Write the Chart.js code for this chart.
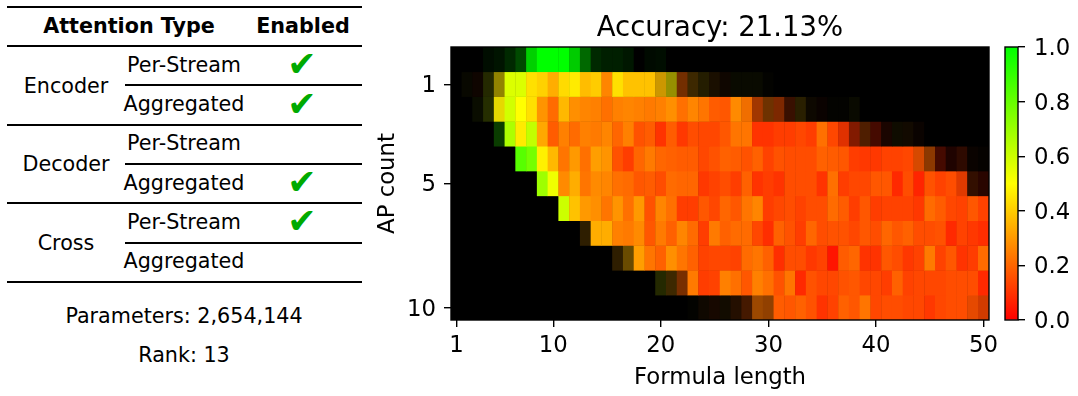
<!DOCTYPE html>
<html>
<head>
<meta charset="utf-8">
<title>Accuracy heatmap</title>
<script src="https://cdn.jsdelivr.net/npm/chart.js@4"></script>
<style>
    html, body { margin: 0; padding: 0; background: #fff; }
    body { width: 1078px; height: 396px; position: relative; overflow: hidden; font-family: "DejaVu Sans", sans-serif; font-size: 20.7px; color: #000; }
    canvas { position: absolute; top: 0; }
    #heatmap { left: 370px; }
    #colorbar { left: 1000px; }
    .rule { position: absolute; height: 2px; background: #000; }
    .cell { position: absolute; transform: translate(-50%, -50%); white-space: nowrap; line-height: 1; }
    .head { font-weight: bold; }
    .check { color: #00aa00; font-size: 35px; }
</style>
</head>
<body>
<canvas id="heatmap" width="630" height="396"></canvas>
<canvas id="colorbar" width="78" height="396"></canvas>
<div id="table"></div>
<script>
// ---- values ----
const chartTitle = 'Accuracy: 21.13%';
const formulaLengths = [1,2,3,4,5,6,7,8,9,10,11,12,13,14,15,16,17,18,19,20,21,22,23,24,25,26,27,28,29,30,31,32,33,34,35,36,37,38,39,40,41,42,43,44,45,46,47,48,49,50];
const apCounts = [0,1,2,3,4,5,6,7,8,9,10];
const xTickLabels = [1,10,20,30,40,50];
const yTickLabels = [1,5,10];
const colorbarTicks = [0,0.2,0.4,0.6,0.8,1];

// accuracy per cell in percent, one row per AP count
const accuracy0 = [0,0,0,100,100,100,100,100,100,100,100,100,100,100,100,100,100,100,100,100,0,0,0,0,0,0,0,0,0,0,0,0,0,0,0,0,0,0,0,0,0,0,0,0,0,0,0,0,0,0];
const accuracy1 = [0,50,17,56,45,57,57,44,41,34,43,46,37,40,26,44,38,38,38,37,48,20,33,40,30,20,55,55,55,50,0,0,0,0,0,0,0,0,0,0,0,0,0,0,0,0,0,0,0,0];
const accuracy2 = [0,0,60,60,47,59,50,44,29,21,36,28,26,25,22,25,26,25,24,25,28,22,26,23,18,17,27,23,17,23,16,14,38,33,10,50,50,55,0,0,0,0,0,0,0,0,0,0,0,0];
const accuracy3 = [0,0,0,0,92,66,46,62,33,18,25,21,25,24,26,20,25,16,18,10,18,11,15,14,14,17,23,23,10,10,12,12,14,12,22,14,11,10,19,7,10,40,28,15,0,0,0,0,0,0];
const accuracy4 = [0,0,0,0,0,0,83,77,47,36,23,30,22,31,29,16,12,20,24,20,19,18,18,14,16,19,18,16,19,13,16,15,15,15,19,18,17,12,11,11,13,13,14,17,20,7,5,11,15,20];
const accuracy5 = [0,0,0,0,0,0,0,0,69,53,27,34,23,27,26,22,21,17,18,15,21,20,20,11,13,15,12,19,10,12,10,15,15,15,10,22,12,14,14,17,17,8,15,7,16,13,15,13,15,6];
const accuracy6 = [0,0,0,0,0,0,0,0,0,0,60,38,30,28,23,29,22,30,16,26,22,12,12,17,14,20,17,23,26,12,14,15,13,15,15,21,18,12,17,12,13,13,13,11,21,18,14,13,17,13];
const accuracy7 = [0,0,0,0,0,0,0,0,0,0,0,0,33,34,34,25,24,27,17,24,19,26,21,12,24,19,21,21,14,9,19,16,12,20,15,16,16,14,17,15,20,17,19,15,15,16,8,13,11,9];
const accuracy8 = [0,0,0,0,0,0,0,0,0,0,0,0,0,0,0,33,36,31,23,19,28,23,19,13,14,14,13,21,23,19,9,15,15,11,13,4,18,20,10,10,17,15,11,13,24,13,17,10,12,21];
const accuracy9 = [0,0,0,0,0,0,0,0,0,0,0,0,0,0,0,0,0,0,0,56,33,19,24,12,13,25,22,17,25,22,16,23,8,16,14,14,16,17,14,14,12,19,13,14,14,14,15,15,15,8];
const accuracy10 = [0,0,0,0,0,0,0,0,0,0,0,0,0,0,0,0,0,0,0,0,0,0,50,27,18,33,21,18,23,22,18,17,19,16,10,13,19,17,23,14,15,15,14,14,11,14,15,15,16,14];

// how much of each cell is lit in percent (0 = black), same layout
const support0 = [0,0,0,5,8,16,29,82,100,100,100,80,41,16,12,12,9,0,4,5,0,0,0,0,0,0,0,0,0,0,0,0,0,0,0,0,0,0,0,0,0,0,0,0,0,0,0,0,0,0];
const support1 = [0,3,6,16,57,100,100,100,100,100,100,100,100,100,100,100,100,100,100,80,59,45,24,14,10,6,4,4,4,1,0,0,0,0,0,0,0,0,0,0,0,0,0,0,0,0,0,0,0,0];
const support2 = [0,0,5,18,90,100,100,100,100,100,100,100,100,100,100,100,100,100,100,100,100,100,100,100,100,100,100,94,63,43,49,22,16,5,4,1,1,4,0,0,0,0,0,0,0,0,0,0,0,0];
const support3 = [0,0,0,0,24,100,100,100,100,100,100,100,100,100,100,100,100,100,100,100,100,100,100,100,100,100,100,100,100,100,100,100,100,100,100,100,88,51,31,27,10,6,7,4,0,0,0,0,0,0];
const support4 = [0,0,0,0,0,0,100,100,100,100,100,100,100,100,100,100,100,100,100,100,100,100,100,100,100,100,100,100,100,100,100,100,100,100,100,100,100,100,100,100,100,100,100,84,55,27,12,18,4,2];
const support5 = [0,0,0,0,0,0,0,0,100,100,100,100,100,100,100,100,100,100,100,100,100,100,100,100,100,100,100,100,100,100,100,100,100,100,100,100,100,100,100,100,100,100,100,100,100,100,100,88,20,16];
const support6 = [0,0,0,0,0,0,0,0,0,0,100,100,100,100,100,100,100,100,100,100,100,100,100,100,100,100,100,100,100,100,100,100,100,100,100,100,100,100,100,100,100,100,100,100,100,100,100,100,100,100];
const support7 = [0,0,0,0,0,0,0,0,0,0,0,0,18,100,100,100,100,100,100,100,100,100,100,100,100,100,100,100,100,100,100,100,100,100,100,100,100,100,100,100,100,100,100,100,100,100,100,100,100,100];
const support8 = [0,0,0,0,0,0,0,0,0,0,0,0,0,0,0,18,41,100,100,100,100,100,100,100,100,100,100,100,100,100,100,100,100,100,100,100,100,100,100,100,100,100,100,100,100,100,100,100,100,100];
const support9 = [0,0,0,0,0,0,0,0,0,0,0,0,0,0,0,0,0,0,0,16,24,47,100,100,100,100,100,100,100,100,100,100,100,100,100,100,100,100,100,100,100,100,100,100,100,100,100,100,100,100];
const support10 = [0,0,0,0,0,0,0,0,0,0,0,0,0,0,0,0,0,0,0,0,0,0,1,6,9,7,14,27,61,57,100,100,100,100,100,100,100,100,100,100,100,100,100,100,100,100,100,100,90,82];

const accuracyRows = [accuracy0,accuracy1,accuracy2,accuracy3,accuracy4,accuracy5,accuracy6,accuracy7,accuracy8,accuracy9,accuracy10];
const supportRows = [support0,support1,support2,support3,support4,support5,support6,support7,support8,support9,support10];

// left table: group, per-stream enabled, aggregated enabled
const attentionGroups = ['Encoder','Decoder','Cross'];
const perStreamEnabled = [true,false,true];
const aggregatedEnabled = [true,true,false];
const parametersText = 'Parameters: 2,654,144';
const rankText = 'Rank: 13';

// red -> yellow -> green, darkened towards black by support
function cellColor(v, s){
    var r = v < 0.5 ? 255 : 510 * (1 - v);
    var g = v < 0.5 ? 510 * v : 255;
    return 'rgb(' + Math.round(r * s) + ',' + Math.round(g * s) + ',0)';
}

var fontFamily = '"DejaVu Sans", sans-serif';
var tickFont = { family: fontFamily, size: 22.8 };
var tickGrid = { display: true, drawOnChartArea: false, drawTicks: true, tickLength: 7, color: '#000', lineWidth: 1.4, offset: false };

// Black frame round the plot area
var framePlugin = {
    id: 'frame',
    afterDatasetsDraw: function(chart){
        var a = chart.chartArea, ctx = chart.ctx;
        ctx.save();
        ctx.strokeStyle = '#000';
        ctx.lineWidth = 1.4;
        ctx.strokeRect(a.left, a.top, a.right - a.left, a.bottom - a.top);
        ctx.restore();
    }
};

// Black behind the cells so the seams between bars do not show white
var blackPlotPlugin = {
    id: 'blackPlot',
    beforeDatasetsDraw: function(chart){
        var a = chart.chartArea, ctx = chart.ctx;
        ctx.save();
        ctx.fillStyle = '#000';
        ctx.fillRect(a.left, a.top, a.right - a.left, a.bottom - a.top);
        ctx.restore();
    }
};

var datasets = apCounts.map(function(ap, r){
    return {
        data: formulaLengths.map(function(){ return [ap - 0.51, ap + 0.51]; }),
        backgroundColor: accuracyRows[r].map(function(v, c){ return cellColor(v / 100, supportRows[r][c] / 100); }),
        borderWidth: 0,
        grouped: false,
        barPercentage: 1.04,
        categoryPercentage: 1
    };
});

new Chart(document.getElementById('heatmap'), {
    type: 'bar',
    data: { labels: formulaLengths, datasets: datasets },
    plugins: [blackPlotPlugin, framePlugin],
    options: {
        responsive: false,
        animation: false,
        events: [],
        layout: { padding: { top: 0, right: 11, bottom: 0, left: 0 } },
        plugins: {
            legend: { display: false },
            tooltip: { enabled: false },
            title: {
                display: true,
                text: chartTitle,
                color: '#000',
                fullSize: false,
                font: { family: fontFamily, size: 27.5, weight: 'normal', lineHeight: 1.2 },
                padding: { top: 12, bottom: 2 }
            }
        },
        scales: {
            x: {
                type: 'category',
                grid: tickGrid,
                border: { display: false },
                ticks: { color: '#000', font: tickFont, autoSkip: false, maxRotation: 0, padding: 5 },
                title: { display: true, text: 'Formula length', color: '#000', font: tickFont, padding: { top: 4, bottom: 4 } },
                afterBuildTicks: function(axis){
                    axis.ticks = axis.ticks.filter(function(t){ return xTickLabels.indexOf(formulaLengths[t.value]) >= 0; });
                },
                afterFit: function(axis){
                    axis.height = 76;
                    // the "50" label must not push the plot area in
                    axis.paddingLeft = 0;
                    axis.paddingRight = 0;
                }
            },
            y: {
                type: 'linear',
                reverse: true,
                min: -0.5,
                max: 10.5,
                grid: tickGrid,
                border: { display: false },
                ticks: { color: '#000', font: tickFont, padding: 8, labelOffset: 2 },
                title: { display: true, text: 'AP count', color: '#000', font: tickFont, padding: { top: 4, bottom: 0 } },
                afterBuildTicks: function(axis){
                    axis.ticks = yTickLabels.map(function(v){ return { value: v }; });
                },
                afterFit: function(axis){ axis.width = 81; }
            }
        }
    }
});

new Chart(document.getElementById('colorbar'), {
    type: 'bar',
    data: {
        labels: ['accuracy'],
        datasets: [{
            data: [[0, 1]],
            borderWidth: 0,
            barPercentage: 1,
            categoryPercentage: 1,
            backgroundColor: function(context){
                var a = context.chart.chartArea;
                if (!a) return '#000';
                var g = context.chart.ctx.createLinearGradient(0, a.bottom, 0, a.top);
                g.addColorStop(0, cellColor(0, 1));
                g.addColorStop(0.5, cellColor(0.5, 1));
                g.addColorStop(1, cellColor(1, 1));
                return g;
            }
        }]
    },
    plugins: [framePlugin],
    options: {
        responsive: false,
        animation: false,
        events: [],
        layout: { padding: { top: 47, right: 0, bottom: 76, left: 5 } },
        plugins: { legend: { display: false }, tooltip: { enabled: false } },
        scales: {
            x: { display: false },
            y: {
                position: 'right',
                min: 0,
                max: 1,
                grid: tickGrid,
                border: { display: false },
                ticks: {
                    color: '#000',
                    font: tickFont,
                    padding: 9,
                    labelOffset: 2,
                    callback: function(v){ return Number(v).toFixed(1); }
                },
                afterBuildTicks: function(axis){
                    axis.ticks = colorbarTicks.map(function(v){ return { value: v }; });
                },
                afterFit: function(axis){ axis.width = 60; }
            }
        }
    }
});

// ---- table on the left, plain html ----
var table = document.getElementById('table');
function addRule(left, right, y){
    var d = document.createElement('div');
    d.className = 'rule';
    d.style.left = left + 'px';
    d.style.width = (right - left) + 'px';
    d.style.top = (y - 1) + 'px';
    table.appendChild(d);
}
function addText(text, x, y, cls){
    var d = document.createElement('div');
    d.className = 'cell' + (cls ? ' ' + cls : '');
    d.textContent = text;
    d.style.left = x + 'px';
    d.style.top = y + 'px';
    table.appendChild(d);
}
addRule(7, 362, 6.5);
addRule(7, 362, 46);
addText('Attention Type', 129, 25.5, 'head');
addText('Enabled', 303, 25.5, 'head');
attentionGroups.forEach(function(name, i){
    var top = 46 + i * 78.6;
    addText(name, 66, top + 39.5);
    addText('Per-Stream', 184, top + 18.5);
    addText('Aggregated', 184, top + 58);
    if (perStreamEnabled[i]) addText('\u2714', 302, top + 18, 'check');
    if (aggregatedEnabled[i]) addText('\u2714', 302, top + 57.5, 'check');
    addRule(125, 362, top + 39.3);
    addRule(7, 362, top + 78.6);
});
addText(parametersText, 184, 316);
addText(rankText, 184, 355);
</script>
</body>
</html>
